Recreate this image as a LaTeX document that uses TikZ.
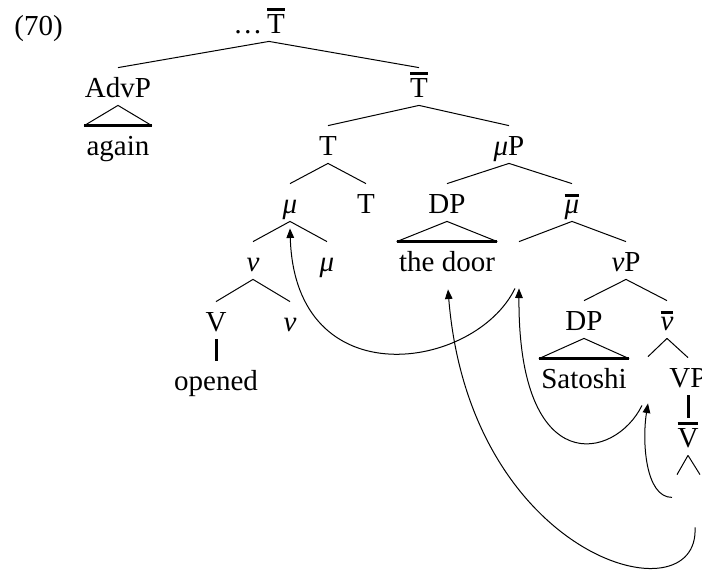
\documentclass[tikz,border=0pt]{standalone}
\usepackage{fontspec}
\setmainfont{Liberation Serif}
\usetikzlibrary{arrows.meta, positioning, calc}
\newcommand{\barcat}[1]{\vbox{\hrule height 1.5pt\kern 1.5pt\hbox{#1}}}
\tikzset{
  catnode/.style={
    anchor=base, inner xsep=1pt, inner ysep=2pt,
    text height=12.5pt, text depth=2pt,
    font=\fontsize{14.5pt}{17pt}\selectfont
  },
  branch/.style={line width=0.5pt},
  roofbase/.style={line width=1.5pt},
  movearrow/.style={-{Triangle[length=4.8pt,width=3.8pt]}, line width=0.5pt},
}

\begin{document}
\begin{tikzpicture}[x=0.5pt, y=-0.5pt]
      \useasboundingbox (0,0) rectangle (702,570);
      \clip (0,0) rectangle (702,570);

      \node[catnode, anchor=base west] (exnum) at (12,35) {(70)};

      \node[catnode] (topT) at (276,33) {\barcat{T}};
      \node[catnode, left=0pt of topT] (dots) {\ldots};
      \coordinate (topapex) at ($(topT.south)+(-7,0)$);

      \node[catnode] (advp)    at (118,97)  {AdvP};
      \node[catnode] (tbar)    at (419,97)  {\barcat{T}};
      \node[catnode] (again)   at (118,155) {again};
      \node[catnode] (tnode)   at (328,155) {T};
      \node[catnode] (mup)     at (509,155) {\textit{μ}P};
      \node[catnode] (mu)      at (290,213) {\textit{μ}};
      \node[catnode] (tlow)    at (366,213) {T};
      \node[catnode] (dp)      at (447,213) {DP};
      \node[catnode] (mubar)   at (572,213) {\barcat{\textit{μ}}};
      \node[catnode] (nu)      at (253,271) {\textit{ν}};
      \node[catnode] (mulow)   at (327,271) {\textit{μ}};
      \node[catnode] (door)    at (447,271) {the door};
      \node[catnode] (trmu)    at (519,271) {};
      \node[catnode] (nup)     at (626,271) {\textit{ν}P};
      \node[catnode] (vnode)   at (216,331) {V};
      \node[catnode] (nulow)   at (290,331) {\textit{ν}};
      \node[catnode] (dptwo)   at (584,330) {DP};
      \node[catnode] (nubar)   at (667,330) {\barcat{\textit{ν}}};
      \node[catnode] (opened)  at (216,390) {opened};
      \node[catnode] (satoshi) at (584,388) {Satoshi};
      \node[catnode] (trnu)    at (648,386) {};
      \node[catnode] (vp)      at (688,387) {VP};
      \node[catnode] (vbar)    at (688,447) {\barcat{V}};
      \node[catnode] (trvl)    at (677,504) {};
      \node[catnode] (trvr)    at (700,504) {};

      \draw[branch] (topapex) -- (advp.north);
      \draw[branch] (topapex) -- (tbar.north);
      \draw[branch] (again.north west) -- (advp.south) -- (again.north east);
      \draw[roofbase] (again.north west) -- (again.north east);
      \draw[branch] (tbar.south) -- (tnode.north);
      \draw[branch] (tbar.south) -- (mup.north);
      \draw[branch] (tnode.south) -- (mu.north);
      \draw[branch] (tnode.south) -- (tlow.north);
      \draw[branch] (mup.south) -- (dp.north);
      \draw[branch] (mup.south) -- (mubar.north);
      \draw[branch] (door.north west) -- (dp.south) -- (door.north east);
      \draw[roofbase] (door.north west) -- (door.north east);
      \draw[branch] (mubar.south) -- (trmu.north);
      \draw[branch] (mubar.south) -- (nup.north);
      \draw[branch] (mu.south) -- (nu.north);
      \draw[branch] (mu.south) -- (mulow.north);
      \draw[branch] (nu.south) -- (vnode.north);
      \draw[branch] (nu.south) -- (nulow.north);
      \draw[roofbase] (vnode.south) -- (opened.north);
      \draw[branch] (nup.south) -- (dptwo.north);
      \draw[branch] (nup.south) -- (nubar.north);
      \draw[branch] (satoshi.north west) -- (dptwo.south) -- (satoshi.north east);
      \draw[roofbase] (satoshi.north west) -- (satoshi.north east);
      \draw[branch] (nubar.south) -- (trnu.north);
      \draw[branch] (nubar.south) -- (vp.north);
      \draw[roofbase] (vp.south) -- (vbar.north);
      \draw[branch] (vbar.south) -- (trvl.north);
      \draw[branch] (vbar.south) -- (trvr.north);

      \draw[movearrow] ($(trmu.south)+(-4,9)$) .. controls +(-40,82) and +(5,170) .. ($(mu.south)+(0,7)$);
      \draw[movearrow] ($(trnu.south)+(-6,11)$) .. controls +(-27,55) and +(-1,192) .. ($(trmu.south)+(0,9)$);
      \draw[movearrow] ($(trvl.south)+(-5,-15)$) .. controls +(-27,0) and +(-6,37) .. ($(trnu.south)+(0,9)$);
      \draw[movearrow] ($(trvr.south)+(-5,15)$) .. controls +(5,93) and +(22,271) .. ($(door.south)+(1,10)$);
    \end{tikzpicture}
\end{document}
